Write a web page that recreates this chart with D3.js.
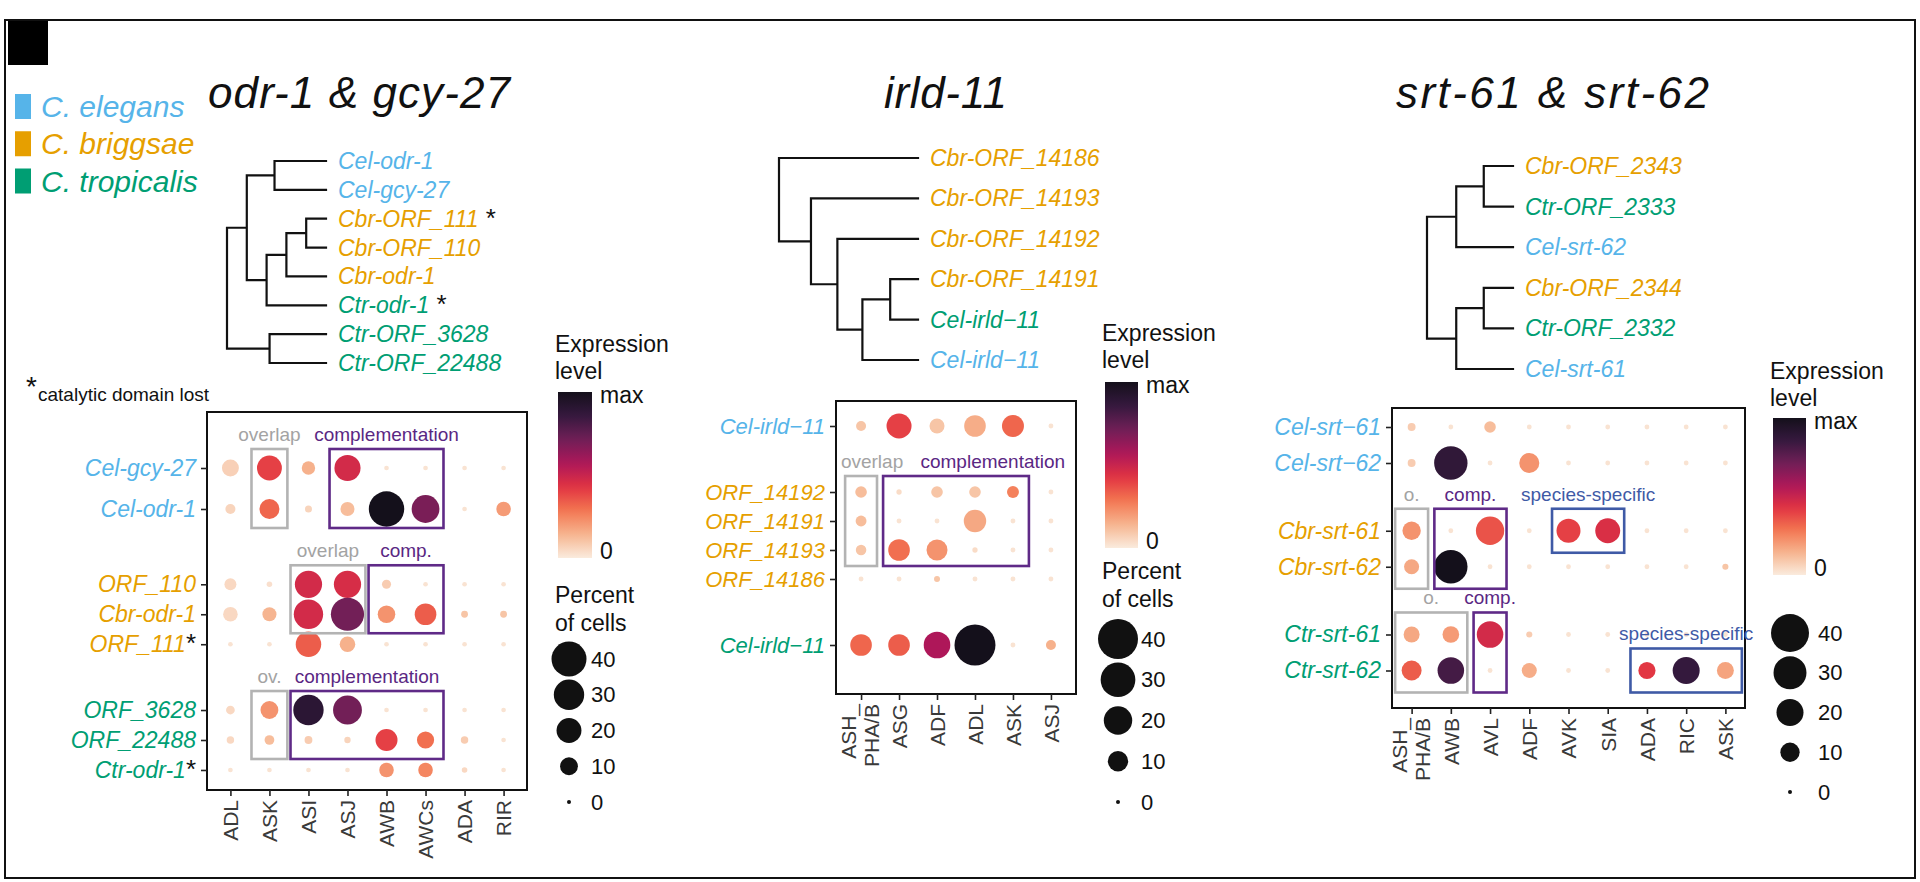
<!DOCTYPE html>
<html>
<head>
<meta charset="utf-8">
<script src="https://cdn.jsdelivr.net/npm/d3@7"></script>
<style>
  body { margin: 0; background: #fff; }
  svg { display: block; }
</style>
</head>
<body>
<div id="chart"></div>
<script>
// ---------- data ----------
const speciesKeys = ['el', 'br', 'tr'];
const speciesNames = ['C. elegans', 'C. briggsae', 'C. tropicalis'];
const panelTitles = ['odr-1 & gcy-27', 'irld-11', 'srt-61 & srt-62'];
const sizeLegendValues = [40, 30, 20, 10, 0];

// trees: internal nodes carry h = node depth as a fraction of the tree height
const odrTree = { h: 0, children: [
  { h: 0.2, children: [
    { h: 0.48, children: [{ name: 'Cel-odr-1', sp: 'el' }, { name: 'Cel-gcy-27', sp: 'el' }] },
    { h: 0.4, children: [
      { h: 0.6, children: [
        { h: 0.8, children: [{ name: 'Cbr-ORF_111', sp: 'br', star: true }, { name: 'Cbr-ORF_110', sp: 'br' }] },
        { name: 'Cbr-odr-1', sp: 'br' }] },
      { name: 'Ctr-odr-1', sp: 'tr', star: true }] }] },
  { h: 0.43, children: [{ name: 'Ctr-ORF_3628', sp: 'tr' }, { name: 'Ctr-ORF_22488', sp: 'tr' }] }] };

const irldTree = { h: 0, children: [
  { name: 'Cbr-ORF_14186', sp: 'br' },
  { h: 0.23, children: [
    { name: 'Cbr-ORF_14193', sp: 'br' },
    { h: 0.42, children: [
      { name: 'Cbr-ORF_14192', sp: 'br' },
      { h: 0.6, children: [
        { h: 0.8, children: [{ name: 'Cbr-ORF_14191', sp: 'br' }, { name: 'Cel-irld\u221211', sp: 'tr' }] },
        { name: 'Cel-irld\u221211', sp: 'el' }] }] }] }] };

const srtTree = { h: 0, children: [
  { h: 0.34, children: [
    { h: 0.66, children: [{ name: 'Cbr-ORF_2343', sp: 'br' }, { name: 'Ctr-ORF_2333', sp: 'tr' }] },
    { name: 'Cel-srt-62', sp: 'el' }] },
  { h: 0.34, children: [
    { h: 0.66, children: [{ name: 'Cbr-ORF_2344', sp: 'br' }, { name: 'Ctr-ORF_2332', sp: 'tr' }] },
    { name: 'Cel-srt-61', sp: 'el' }] }] };

// dot plot 1: odr-1 & gcy-27
const odrCols = ['ADL', 'ASK', 'ASI', 'ASJ', 'AWB', 'AWCs', 'ADA', 'RIR'];
const odrRows = [
  { id: 'Cel-gcy-27', sp: 'el' }, { id: 'Cel-odr-1', sp: 'el' },
  { id: 'ORF_110', sp: 'br' }, { id: 'Cbr-odr-1', sp: 'br' }, { id: 'ORF_111', sp: 'br', star: true },
  { id: 'ORF_3628', sp: 'tr' }, { id: 'ORF_22488', sp: 'tr' }, { id: 'Ctr-odr-1', sp: 'tr', star: true }];
const odrPct = [
  [9, 20, 5.4, 22, 0.2, 0.2, 0.2, 0.2],
  [2.8, 12.7, 1.1, 6, 41, 25, 0.2, 6.5],
  [4.2, 0.5, 24, 24, 2.2, 0.2, 0.2, 0.2],
  [6.5, 6, 28, 36, 9.7, 15, 1, 1],
  [0.2, 0.2, 21, 7.5, 0.2, 0.2, 0.2, 0.2],
  [2, 10, 30, 27, 0.2, 0.2, 0.2, 0.2],
  [1.3, 2.6, 1.5, 0.8, 15.5, 9.3, 1.3, 0.2],
  [0.2, 0.2, 0.2, 0.2, 6.5, 6.5, 0.5, 0.2]];
const odrExpr = [
  [0.07, 0.4, 0.15, 0.47, 0.02, 0.02, 0.02, 0.02],
  [0.06, 0.32, 0.06, 0.12, 1, 0.69, 0.02, 0.2],
  [0.05, 0.03, 0.47, 0.46, 0.08, 0.02, 0.02, 0.02],
  [0.05, 0.14, 0.47, 0.71, 0.22, 0.34, 0.1, 0.1],
  [0.02, 0.02, 0.34, 0.15, 0.02, 0.02, 0.02, 0.02],
  [0.05, 0.22, 0.9, 0.71, 0.02, 0.02, 0.02, 0.02],
  [0.05, 0.12, 0.08, 0.06, 0.4, 0.3, 0.08, 0.02],
  [0.02, 0.02, 0.02, 0.02, 0.22, 0.25, 0.05, 0.02]];
const odrBoxes = [
  { rows: [0, 1], cols: ['ASK', 'ASK'], kind: 'ov', label: 'overlap' },
  { rows: [0, 1], cols: ['ASJ', 'AWCs'], kind: 'comp', label: 'complementation' },
  { rows: [2, 3], cols: ['ASI', 'ASJ'], kind: 'ov', label: 'overlap' },
  { rows: [2, 3], cols: ['AWB', 'AWCs'], kind: 'comp', label: 'comp.' },
  { rows: [5, 6], cols: ['ASK', 'ASK'], kind: 'ov', label: 'ov.' },
  { rows: [5, 6], cols: ['ASI', 'AWCs'], kind: 'comp', label: 'complementation' }];

// dot plot 2: irld-11
const irldCols = ['ASH_PHA/B', 'ASG', 'ADF', 'ADL', 'ASK', 'ASJ'];
const irldRows = [
  { id: 'Cel-irld\u221211', sp: 'el' },
  { id: 'ORF_14192', sp: 'br' }, { id: 'ORF_14191', sp: 'br' }, { id: 'ORF_14193', sp: 'br' }, { id: 'ORF_14186', sp: 'br' },
  { id: 'Cel-irld\u221211', sp: 'tr' }];
const irldPct = [
  [2.1, 15.4, 5.3, 11.4, 11.8, 0.2],
  [3, 0.3, 3, 3, 3.2, 0.2],
  [2.6, 0.2, 0.2, 12.3, 0.2, 0.2],
  [2.4, 11.4, 10.7, 0.3, 0.2, 0.2],
  [0.2, 0.2, 0.5, 0.2, 0.2, 0.2],
  [11.4, 11.4, 17.5, 42, 0.2, 2.1]];
const irldExpr = [
  [0.1, 0.4, 0.1, 0.16, 0.32, 0.02],
  [0.12, 0.04, 0.1, 0.1, 0.26, 0.02],
  [0.12, 0.02, 0.02, 0.17, 0.02, 0.02],
  [0.1, 0.3, 0.22, 0.04, 0.02, 0.02],
  [0.02, 0.02, 0.1, 0.02, 0.02, 0.02],
  [0.32, 0.34, 0.57, 1, 0.02, 0.15]];
const irldBoxes = [
  { rows: [1, 3], cols: ['ASH_PHA/B', 'ASH_PHA/B'], kind: 'ov', label: 'overlap', labelAt: 0.29 },
  { rows: [1, 3], cols: ['ASG', 'ASK'], kind: 'comp', label: 'complementation', labelAt: 2.47 }];

// dot plot 3: srt-61 & srt-62
const srtCols = ['ASH_PHA/B', 'AWB', 'AVL', 'ADF', 'AVK', 'SIA', 'ADA', 'RIC', 'ASK'];
const srtRows = [
  { id: 'Cel-srt\u221261', sp: 'el' }, { id: 'Cel-srt\u221262', sp: 'el' },
  { id: 'Cbr-srt-61', sp: 'br' }, { id: 'Cbr-srt-62', sp: 'br' },
  { id: 'Ctr-srt-61', sp: 'tr' }, { id: 'Ctr-srt-62', sp: 'tr' }];
const srtPct = [
  [1.3, 0.2, 3.3, 0.2, 0.2, 0.2, 0.2, 0.2, 0.2],
  [1.3, 30.8, 0.2, 10.8, 0.2, 0.2, 0.2, 0.2, 0.2],
  [9, 0.2, 22, 0.2, 15.7, 17, 0.2, 0.2, 0.2],
  [5.9, 30.8, 0.2, 0.2, 0.2, 0.2, 0.2, 0.2, 0.6],
  [6.7, 7.3, 19.3, 0.6, 0.2, 0.2, 0.2, 0.2, 0.2],
  [10.7, 19.3, 0.2, 5.9, 0.2, 0.2, 7.8, 20, 7.6]];
const srtExpr = [
  [0.08, 0.02, 0.12, 0.02, 0.02, 0.02, 0.02, 0.02, 0.02],
  [0.08, 0.88, 0.02, 0.22, 0.02, 0.02, 0.02, 0.02, 0.02],
  [0.22, 0.02, 0.36, 0.02, 0.4, 0.45, 0.02, 0.02, 0.02],
  [0.17, 1, 0.02, 0.02, 0.02, 0.02, 0.02, 0.02, 0.1],
  [0.17, 0.2, 0.47, 0.08, 0.02, 0.02, 0.02, 0.02, 0.02],
  [0.34, 0.82, 0.02, 0.16, 0.02, 0.02, 0.42, 0.86, 0.18]];
const srtBoxes = [
  { rows: [2, 3], cols: ['ASH_PHA/B', 'ASH_PHA/B'], kind: 'ov', label: 'o.' },
  { rows: [2, 3], cols: ['AWB', 'AVL'], kind: 'comp', label: 'comp.' },
  { rows: [2, 2], cols: ['AVK', 'SIA'], kind: 'spec', label: 'species-specific' },
  { rows: [4, 5], cols: ['ASH_PHA/B', 'AWB'], kind: 'ov', label: 'o.' },
  { rows: [4, 5], cols: ['AVL', 'AVL'], kind: 'comp', label: 'comp.' },
  { rows: [5, 5], cols: ['ADA', 'ASK'], kind: 'spec', label: 'species-specific' }];

// ---------- styles ----------
const FONT = '"Liberation Sans", Arial, Helvetica, sans-serif';
const SP_COLOR = { el: '#56b4e9', br: '#e69f00', tr: '#009e73' };
const BOX_COLOR = { ov: '#b3b3b3', comp: '#5f2a87', spec: '#3f5aa6' };
const LABEL_COLOR = { ov: '#a3a3a3', comp: '#5a2783', spec: '#3f5aa6' };
const rocketStops = ['#faebdd', '#f6b48f', '#f37651', '#e13342', '#ad1759', '#701f57', '#35193e', '#14101b'];
const color = d3.scaleSequential(d3.piecewise(d3.interpolateRgb, rocketStops)).domain([0, 1]);

const svg = d3.select('#chart').append('svg')
  .attr('width', 1920).attr('height', 882)
  .style('font-family', FONT);

// outer frame and panel tag
svg.append('rect').attr('x', 5).attr('y', 20).attr('width', 1910).attr('height', 858)
  .attr('fill', 'none').attr('stroke', '#111').attr('stroke-width', 2);
svg.append('rect').attr('x', 8).attr('y', 21).attr('width', 40).attr('height', 44).attr('fill', '#000');

// species key
const spY = d3.scalePoint().domain(speciesKeys).range([106.5, 181]);
speciesKeys.forEach((k, i) => {
  svg.append('rect').attr('x', 15).attr('y', spY(k) - 12.5).attr('width', 16).attr('height', 25).attr('fill', SP_COLOR[k]);
  svg.append('text').attr('x', 41).attr('y', spY(k) + 10.5)
    .attr('font-size', 30).attr('font-style', 'italic').attr('fill', SP_COLOR[k]).text(speciesNames[i]);
});

// titles
const titleLayout = [{ x: 208, w: 302 }, { x: 884, w: 123 }, { x: 1396, w: 313 }];
panelTitles.forEach((t, i) => {
  svg.append('text').attr('x', titleLayout[i].x).attr('y', 108)
    .attr('font-size', 44).attr('font-style', 'italic').attr('fill', '#111')
    .attr('textLength', titleLayout[i].w).attr('lengthAdjust', 'spacing').text(t);
});

// footnote
svg.append('text').attr('x', 26).attr('y', 396).attr('font-size', 28).attr('fill', '#111').text('*');
svg.append('text').attr('x', 38).attr('y', 401).attr('font-size', 19).attr('fill', '#111').text('catalytic domain lost');

// ---------- tree ----------
function drawTree(data, x0, x1, y0, y1) {
  const root = d3.hierarchy(data);
  const leaves = root.leaves();
  const yS = d3.scalePoint().domain(d3.range(leaves.length)).range([y0, y1]);
  const xS = d3.scaleLinear().domain([0, 1]).range([x0, x1]);
  leaves.forEach((l, i) => { l.py = yS(i); });
  root.eachAfter(n => { if (n.children) n.py = d3.mean(n.children, c => c.py); });
  root.each(n => { n.px = xS(n.children ? n.data.h : 1); });

  const path = d3.path();
  root.each(n => {
    if (n.parent) { path.moveTo(n.parent.px, n.py); path.lineTo(n.px, n.py); }
    if (n.children) {
      path.moveTo(n.px, n.children[0].py);
      path.lineTo(n.px, n.children[n.children.length - 1].py);
    }
  });
  svg.append('path').attr('d', path.toString()).attr('fill', 'none')
    .attr('stroke', '#111').attr('stroke-width', 2.2).attr('stroke-linecap', 'square');

  leaves.forEach(l => {
    const t = svg.append('text').attr('x', x1 + 12).attr('y', l.py).attr('dy', '0.35em')
      .attr('font-size', 23).attr('font-style', 'italic').attr('fill', SP_COLOR[l.data.sp]);
    t.append('tspan').text(l.data.name);
    if (l.data.star) t.append('tspan').attr('fill', '#111').attr('font-style', 'normal').attr('font-size', 26).text(' *');
  });
}

drawTree(odrTree, 227, 326, 161, 363);
drawTree(irldTree, 779, 918, 158, 360);
drawTree(srtTree, 1427, 1513, 166, 369);

// ---------- dot plots ----------
function drawDotPanel(p) {
  const g = svg.append('g');
  const x = d3.scalePoint().domain(p.cols).range(p.x).padding(p.xPad);
  const keys = p.rows.map((r, i) => i);
  const groups = Array.from(new Set(p.rows.map(r => r.sp)));
  const band = d3.scaleBand().domain(groups).range(p.yRange).paddingInner(p.bandPad);
  const pos = [];
  groups.forEach(gk => {
    const idx = keys.filter(i => p.rows[i].sp === gk);
    const inner = d3.scalePoint().domain(idx)
      .range([band(gk), band(gk) + band.bandwidth()]).padding(p.innerPad);
    idx.forEach(i => { pos[i] = inner(i); });
  });
  const y = d3.scaleOrdinal().domain(keys).range(keys.map(i => pos[i]));
  const r = d3.scaleRadial().domain([0, 40]).range([2, p.rMax]);

  g.append('rect').attr('x', p.x[0]).attr('y', p.y[0])
    .attr('width', p.x[1] - p.x[0]).attr('height', p.y[1] - p.y[0])
    .attr('fill', 'none').attr('stroke', '#111').attr('stroke-width', 2);

  const cells = [];
  p.rows.forEach((row, i) => p.cols.forEach((c, j) => {
    cells.push({ i, c, pct: p.pct[i][j], ex: p.expr[i][j] });
  }));
  g.selectAll('circle.dot').data(cells).join('circle').attr('class', 'dot')
    .attr('cx', d => x(d.c)).attr('cy', d => y(d.i))
    .attr('r', d => r(d.pct)).attr('fill', d => color(d.ex));

  // annotation boxes
  const step = x.step();
  p.boxes.forEach(b => {
    const bx0 = x(b.cols[0]) - p.boxPadX * step;
    const bx1 = x(b.cols[1]) + p.boxPadX * step;
    const by0 = y(b.rows[0]) - p.boxPadY;
    const by1 = y(b.rows[1]) + p.boxPadY;
    g.append('rect').attr('x', bx0).attr('y', by0).attr('width', bx1 - bx0).attr('height', by1 - by0)
      .attr('fill', 'none').attr('stroke', BOX_COLOR[b.kind]).attr('stroke-width', 2.6);
    const lx = b.labelAt != null ? x(b.cols[0]) + b.labelAt * step : (bx0 + bx1) / 2;
    g.append('text').attr('x', lx).attr('y', by0 - 8).attr('text-anchor', 'middle')
      .attr('font-size', 19).attr('fill', LABEL_COLOR[b.kind]).text(b.label);
  });

  // y axis
  const ya = g.append('g').attr('transform', `translate(${p.x[0]},0)`)
    .call(d3.axisLeft(y).tickSize(6).tickPadding(5).tickFormat(''));
  ya.attr('font-family', FONT);
  ya.select('.domain').remove();
  ya.selectAll('.tick line').attr('stroke', '#222').attr('stroke-width', 1.6);
  ya.selectAll('.tick text').each(function (i) {
    const t = d3.select(this);
    const row = p.rows[i];
    t.text(null).attr('font-size', p.labelSize).attr('font-style', 'italic').attr('fill', SP_COLOR[row.sp]);
    t.append('tspan').text(row.id);
    if (row.star) t.append('tspan').attr('fill', '#111').attr('font-style', 'normal').attr('font-size', p.labelSize + 3).text('*');
  });

  // x axis
  const xa = g.append('g').attr('transform', `translate(0,${p.y[1]})`)
    .call(d3.axisBottom(x).tickSize(6));
  xa.attr('font-family', FONT);
  xa.select('.domain').remove();
  xa.selectAll('.tick line').attr('stroke', '#222').attr('stroke-width', 1.6);
  xa.selectAll('.tick text').each(function (c) {
    const t = d3.select(this)
      .attr('transform', 'rotate(-90)').attr('x', -10).attr('y', 0).attr('dy', '0.35em')
      .attr('text-anchor', 'end').attr('font-size', 21).attr('fill', '#3a3a3a');
    if (c.includes('_')) {
      const parts = [c.slice(0, c.indexOf('_') + 1), c.slice(c.indexOf('_') + 1)];
      t.text(null).attr('dy', null);
      t.append('tspan').attr('x', -10).attr('dy', '-0.25em').text(parts[0]);
      t.append('tspan').attr('x', -10).attr('dy', '1.1em').text(parts[1]);
    }
  });

  return r;
}

// ---------- legends ----------
let gradId = 0;
function drawLegend(L, r) {
  const g = svg.append('g');
  g.append('text').attr('x', L.x).attr('y', L.titleY).attr('font-size', 23).attr('fill', '#111').text('Expression');
  g.append('text').attr('x', L.x).attr('y', L.titleY + 27).attr('font-size', 23).attr('fill', '#111').text('level');

  const id = 'grad' + (gradId++);
  const grad = svg.append('defs').append('linearGradient').attr('id', id)
    .attr('x1', 0).attr('y1', 1).attr('x2', 0).attr('y2', 0);
  d3.range(0, 1.0001, 0.05).forEach(t => {
    grad.append('stop').attr('offset', t).attr('stop-color', color(t));
  });
  g.append('rect').attr('x', L.barX).attr('y', L.barY0).attr('width', L.barW)
    .attr('height', L.barY1 - L.barY0).attr('fill', `url(#${id})`);
  g.append('text').attr('x', L.barX + L.barW + 8).attr('y', L.barY0 + 11).attr('font-size', 23).attr('fill', '#111').text('max');
  g.append('text').attr('x', L.barX + L.barW + 8).attr('y', L.barY1 + 1).attr('font-size', 23).attr('fill', '#111').text('0');

  if (L.pctTitleY != null) {
    g.append('text').attr('x', L.x).attr('y', L.pctTitleY).attr('font-size', 23).attr('fill', '#111').text('Percent');
    g.append('text').attr('x', L.x).attr('y', L.pctTitleY + 28).attr('font-size', 23).attr('fill', '#111').text('of cells');
  }
  const sy = d3.scalePoint().domain(sizeLegendValues).range(L.sizeY);
  sizeLegendValues.forEach(v => {
    g.append('circle').attr('cx', L.circleX).attr('cy', sy(v)).attr('r', r(v)).attr('fill', '#111');
    g.append('text').attr('x', L.labelX).attr('y', sy(v)).attr('dy', '0.35em')
      .attr('font-size', 22).attr('fill', '#111').text(v);
  });
}

const r1 = drawDotPanel({
  cols: odrCols, rows: odrRows, pct: odrPct, expr: odrExpr, boxes: odrBoxes,
  x: [207, 527], y: [412, 790], xPad: 0.6,
  yRange: [432.75, 795.75], bandPad: 0.1133, innerPad: 0.86,
  rMax: 17.5, boxPadX: 0.46, boxPadY: 19, labelSize: 23
});
drawLegend({ x: 555, titleY: 352, barX: 558, barW: 34, barY0: 392, barY1: 558,
  pctTitleY: 603, circleX: 569, labelX: 591, sizeY: [659, 802] }, r1);

const r2 = drawDotPanel({
  cols: irldCols, rows: irldRows, pct: irldPct, expr: irldExpr, boxes: irldBoxes,
  x: [836, 1076], y: [401, 694], xPad: 0.66,
  yRange: [377, 694], bandPad: 0.105, innerPad: 0.19,
  rMax: 20, boxPadX: 0.42, boxPadY: 16, labelSize: 22
});
drawLegend({ x: 1102, titleY: 341, barX: 1105, barW: 33, barY0: 382, barY1: 548,
  pctTitleY: 579, circleX: 1118, labelX: 1141, sizeY: [639, 802] }, r2);

const r3 = drawDotPanel({
  cols: srtCols, rows: srtRows, pct: srtPct, expr: srtExpr, boxes: srtBoxes,
  x: [1392, 1745], y: [408, 708], xPad: 0.5,
  yRange: [400, 697.5], bandPad: 0.1325, innerPad: 0.75,
  rMax: 19, boxPadX: 0.42, boxPadY: 22, labelSize: 23
});
drawLegend({ x: 1770, titleY: 379, barX: 1773, barW: 33, barY0: 418, barY1: 575,
  pctTitleY: null, circleX: 1790, labelX: 1818, sizeY: [633, 792] }, r3);
</script>
</body>
</html>
